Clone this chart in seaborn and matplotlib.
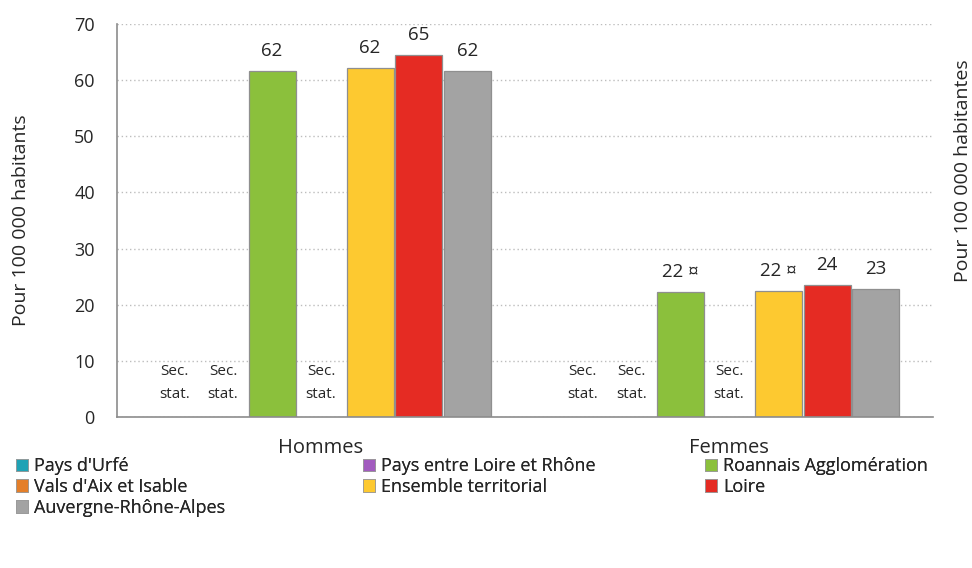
import numpy as np
import pandas as pd
import matplotlib
matplotlib.use("Agg")
import matplotlib.pyplot as plt
from matplotlib.patches import Patch
import seaborn as sns

# Data
sexes = ["Hommes", "Femmes"]
territories = ["Pays d'Urfé", "Pays entre Loire et Rhône", "Roannais Agglomération",
               "Vals d'Aix et Isable", "Ensemble territorial", "Loire", "Auvergne-Rhône-Alpes"]
hommes = [np.nan, np.nan, 61.6, np.nan, 62.1, 64.5, 61.6]
femmes = [np.nan, np.nan, 22.3, np.nan, 22.4, 23.5, 22.8]
labels_hommes = ["Sec.\nstat.", "Sec.\nstat.", "62", "Sec.\nstat.", "62", "65", "62"]
labels_femmes = ["Sec.\nstat.", "Sec.\nstat.", "22 ¤", "Sec.\nstat.", "22 ¤", "24", "23"]
colors = ["#1fa2b5", "#a25bbf", "#8bc03c", "#e47f2a", "#fdc930", "#e52b23", "#a3a3a3"]

df = pd.DataFrame({
    "sexe": np.repeat(sexes, len(territories)),
    "territoire": territories * 2,
    "valeur": hommes + femmes,
})

sns.set_style("white")
plt.rcParams["font.family"] = ["Open Sans", "DejaVu Sans"]

fig = plt.figure(figsize=(9.72, 5.68), dpi=100)
ax = fig.add_axes([0.1204, 0.2658, 0.8396, 0.6919])

width = 0.84
sns.barplot(data=df, x="sexe", y="valeur", hue="territoire", order=sexes,
            hue_order=territories, palette=colors, saturation=1, width=width,
            gap=0.04, edgecolor="#8f8f8f", linewidth=0.9, legend=False, ax=ax)

ax.set_ylim(0, 70)
ax.set_xlim(-0.5, 1.5)
ax.set_yticks(range(0, 71, 10))
ax.yaxis.grid(True, linestyle=(0, (1, 2)), color="#bdbdbd", linewidth=1)
ax.set_axisbelow(True)
for s in ["top", "right"]:
    ax.spines[s].set_visible(False)
for s in ["left", "bottom"]:
    ax.spines[s].set_color("#8c8c8c")
    ax.spines[s].set_linewidth(1.2)
ax.tick_params(axis="y", direction="out", length=5, color="#8c8c8c", labelsize=13, pad=11)
ax.tick_params(axis="x", which="major", length=0, labelsize=14.5, pad=15)
ax.set_xticks([-0.5, 0.5, 1.5], minor=True)
ax.tick_params(axis="x", which="minor", direction="out", length=5, color="#8c8c8c")
ax.set_xlabel("")
ax.set_ylabel("")

# bar labels
step = width / len(territories)
for g, labs in enumerate([labels_hommes, labels_femmes]):
    vals = hommes if g == 0 else femmes
    for k, (lab, v) in enumerate(zip(labs, vals)):
        x = g + (k - (len(territories) - 1) / 2) * step
        if np.isnan(v):
            ax.text(x, 6.1, lab, ha="center", va="center", fontsize=11,
                    linespacing=1.75)
        else:
            ax.annotate(lab, (x, v), xytext=(0, 8), textcoords="offset points",
                        ha="center", va="bottom", fontsize=13.5)

fig.text(0.022, 0.6117, "Pour 100 000 habitants", rotation=90, ha="center",
         va="center", fontsize=14)
fig.text(0.991, 0.70, "Pour 100 000 habitantes", rotation=90, ha="center",
         va="center", fontsize=14)

# legend laid out row by row, one legend per column
handles = [Patch(facecolor=c, edgecolor="#9a9a9a", linewidth=0.6) for c in colors]
col_x = [0.016, 0.373, 0.725]
for c in range(3):
    idx = list(range(c, len(territories), 3))
    leg = fig.legend([handles[i] for i in idx], [territories[i] for i in idx],
                     loc="upper left", bbox_to_anchor=(col_x[c], 0.195),
                     frameon=False, fontsize=13, handlelength=0.7,
                     handleheight=0.7, handletextpad=0.3, labelspacing=0.15,
                     borderaxespad=0, borderpad=0)
    fig.add_artist(leg)

fig.savefig("out.png", dpi=100)
